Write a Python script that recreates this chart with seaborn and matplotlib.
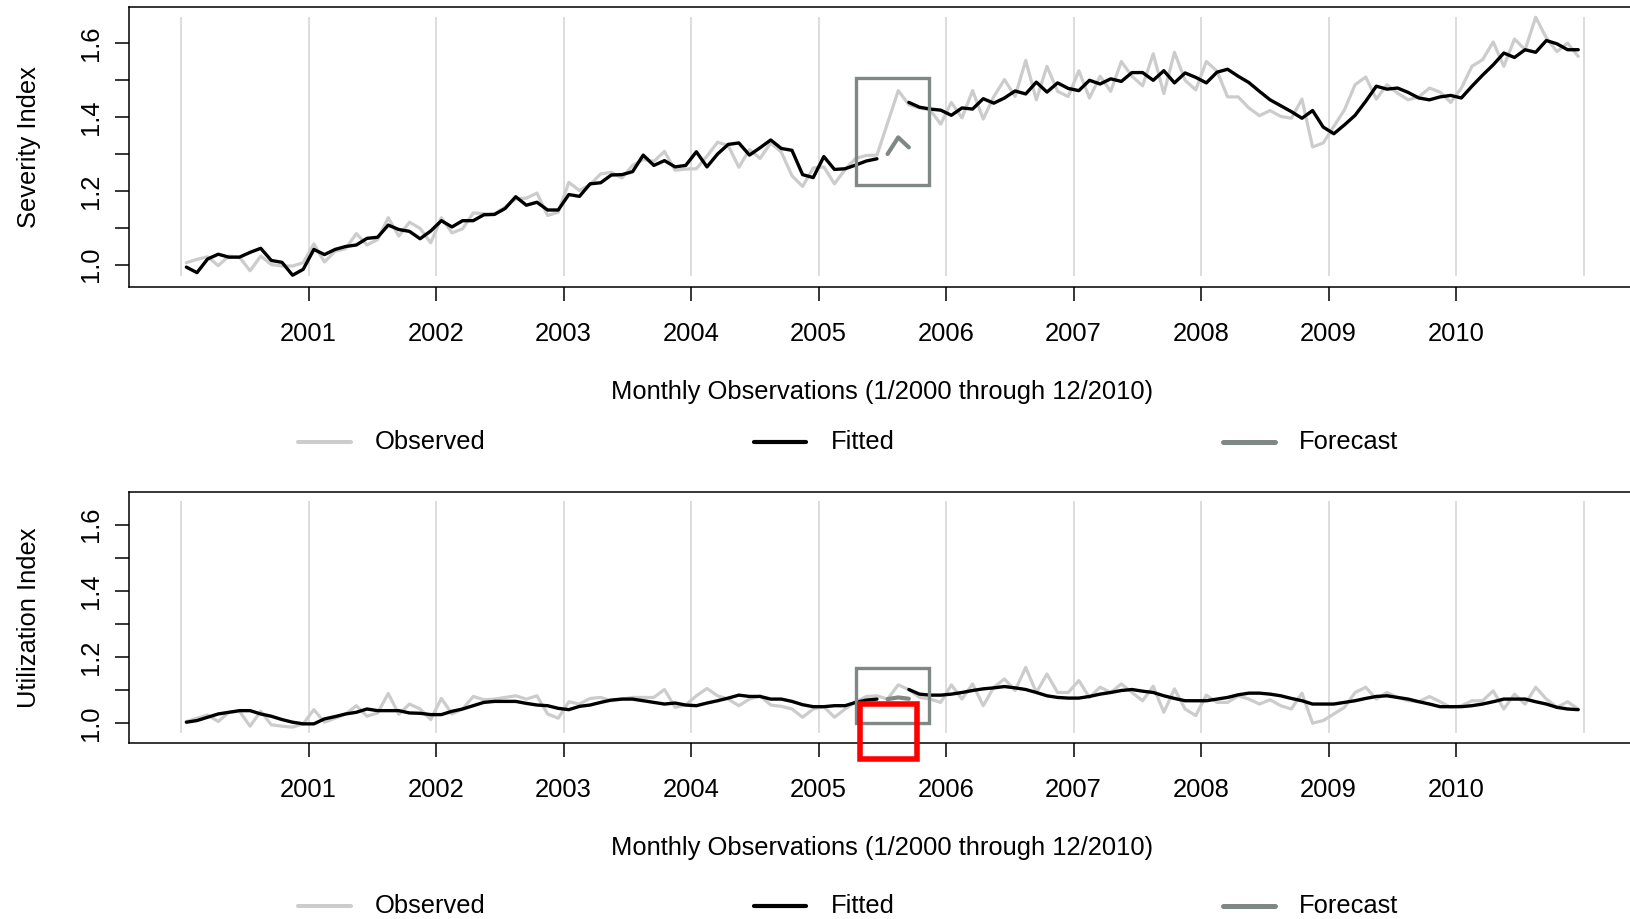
import numpy as np
import matplotlib
matplotlib.use("Agg")
import matplotlib.pyplot as plt
import seaborn as sns
from matplotlib.lines import Line2D
from matplotlib.patches import Rectangle

# ---- data: monthly index values, Jan 2000 .. Dec 2010 (132 months) ----
severity_observed = [
    1.005, 1.014, 1.021, 0.997, 1.023, 1.020, 0.983, 1.023, 1.000, 0.996, 0.996, 1.005,
    1.056, 1.007, 1.036, 1.043, 1.084, 1.053, 1.068, 1.127, 1.077, 1.115, 1.098, 1.059,
    1.127, 1.086, 1.097, 1.140, 1.138, 1.137, 1.156, 1.178, 1.180, 1.194, 1.133, 1.142,
    1.223, 1.201, 1.217, 1.246, 1.250, 1.235, 1.269, 1.285, 1.280, 1.307, 1.256, 1.259,
    1.260, 1.294, 1.332, 1.323, 1.264, 1.312, 1.288, 1.330, 1.305, 1.241, 1.212, 1.262,
    1.265, 1.219, 1.258, 1.288, 1.296, 1.297, 1.384, 1.472, 1.434, 1.425, 1.420, 1.381,
    1.440, 1.398, 1.472, 1.395, 1.456, 1.502, 1.456, 1.554, 1.447, 1.538, 1.470, 1.456,
    1.526, 1.452, 1.511, 1.470, 1.551, 1.511, 1.485, 1.572, 1.464, 1.576, 1.500, 1.474,
    1.551, 1.525, 1.455, 1.455, 1.425, 1.404, 1.418, 1.402, 1.397, 1.449, 1.319, 1.330,
    1.375, 1.420, 1.488, 1.509, 1.449, 1.488, 1.465, 1.447, 1.455, 1.479, 1.468, 1.440,
    1.479, 1.538, 1.556, 1.604, 1.538, 1.612, 1.583, 1.671, 1.615, 1.578, 1.601, 1.565,
]
severity_fitted = [
    0.993, 0.978, 1.015, 1.028, 1.020, 1.020, 1.033, 1.044, 1.011, 1.006, 0.971, 0.987,
    1.041, 1.027, 1.041, 1.049, 1.053, 1.071, 1.074, 1.107, 1.095, 1.090, 1.070, 1.091,
    1.119, 1.102, 1.119, 1.119, 1.135, 1.136, 1.152, 1.184, 1.161, 1.169, 1.148, 1.148,
    1.190, 1.185, 1.219, 1.222, 1.243, 1.244, 1.252, 1.297, 1.269, 1.282, 1.265, 1.269,
    1.306, 1.265, 1.300, 1.326, 1.330, 1.297, 1.317, 1.338, 1.315, 1.310, 1.244, 1.236,
    1.293, 1.258, 1.260, 1.270, 1.281, 1.287, np.nan, np.nan, 1.440, 1.427, 1.422, 1.419,
    1.405, 1.425, 1.422, 1.450, 1.438, 1.452, 1.471, 1.463, 1.495, 1.468, 1.493, 1.478,
    1.472, 1.500, 1.490, 1.504, 1.497, 1.521, 1.521, 1.500, 1.526, 1.493, 1.520, 1.508,
    1.493, 1.522, 1.530, 1.511, 1.494, 1.470, 1.447, 1.431, 1.415, 1.397, 1.418, 1.373,
    1.355, 1.379, 1.405, 1.443, 1.484, 1.476, 1.479, 1.467, 1.452, 1.447, 1.455, 1.459,
    1.452, 1.484, 1.514, 1.542, 1.574, 1.562, 1.583, 1.576, 1.608, 1.599, 1.583, 1.583,
]
severity_forecast = [1.300, 1.345, 1.318]

utilization_observed = [
    1.004, 1.014, 1.024, 1.004, 1.032, 1.035, 0.990, 1.035, 0.994, 0.990, 0.987, 0.997,
    1.040, 1.002, 1.014, 1.027, 1.052, 1.020, 1.030, 1.089, 1.026, 1.057, 1.042, 1.010,
    1.074, 1.027, 1.042, 1.080, 1.070, 1.072, 1.077, 1.082, 1.072, 1.082, 1.027, 1.014,
    1.064, 1.057, 1.074, 1.077, 1.067, 1.072, 1.077, 1.077, 1.077, 1.101, 1.047, 1.054,
    1.082, 1.104, 1.082, 1.072, 1.052, 1.072, 1.082, 1.054, 1.050, 1.042, 1.017, 1.042,
    1.049, 1.017, 1.042, 1.064, 1.080, 1.082, 1.072, 1.115, 1.101, 1.077, 1.072, 1.062,
    1.115, 1.072, 1.118, 1.052, 1.108, 1.133, 1.098, 1.168, 1.092, 1.148, 1.092, 1.092,
    1.128, 1.077, 1.108, 1.092, 1.118, 1.092, 1.067, 1.111, 1.032, 1.103, 1.042, 1.022,
    1.084, 1.062, 1.062, 1.082, 1.072, 1.057, 1.070, 1.052, 1.042, 1.090, 0.999, 1.007,
    1.027, 1.047, 1.092, 1.108, 1.072, 1.092, 1.077, 1.067, 1.064, 1.080, 1.064, 1.047,
    1.052, 1.067, 1.067, 1.097, 1.042, 1.087, 1.057, 1.108, 1.072, 1.047, 1.064, 1.042,
]
utilization_fitted = [
    1.002, 1.007, 1.017, 1.027, 1.032, 1.037, 1.037, 1.027, 1.020, 1.010, 1.002, 0.997,
    0.997, 1.012, 1.019, 1.027, 1.032, 1.042, 1.037, 1.037, 1.037, 1.030, 1.029, 1.025,
    1.025, 1.035, 1.042, 1.052, 1.062, 1.065, 1.065, 1.065, 1.059, 1.054, 1.052, 1.044,
    1.040, 1.050, 1.054, 1.062, 1.069, 1.072, 1.072, 1.067, 1.062, 1.057, 1.060, 1.054,
    1.052, 1.060, 1.067, 1.075, 1.084, 1.080, 1.080, 1.072, 1.072, 1.065, 1.055, 1.049,
    1.049, 1.052, 1.052, 1.062, 1.069, 1.072, np.nan, np.nan, 1.101, 1.087, 1.084, 1.084,
    1.087, 1.092, 1.098, 1.103, 1.106, 1.110, 1.106, 1.101, 1.092, 1.082, 1.077, 1.075,
    1.075, 1.080, 1.087, 1.092, 1.098, 1.101, 1.096, 1.092, 1.082, 1.074, 1.067, 1.067,
    1.067, 1.072, 1.077, 1.085, 1.090, 1.090, 1.087, 1.082, 1.074, 1.067, 1.057, 1.057,
    1.057, 1.062, 1.067, 1.074, 1.080, 1.082, 1.077, 1.072, 1.064, 1.057, 1.049, 1.049,
    1.049, 1.052, 1.057, 1.064, 1.072, 1.072, 1.072, 1.064, 1.057, 1.047, 1.042, 1.040,
]
utilization_forecast = [1.072, 1.077, 1.073]

forecast_start = 66          # Jul 2005, first forecast month
year_ticks = list(range(2001, 2011))
grid_years = list(range(2000, 2012))
panel_labels = ["Severity Index", "Utilization Index"]
legend_labels = ["Observed", "Fitted", "Forecast"]
x_title = "Monthly Observations (1/2000 through 12/2010)"

# holdout window boxes (month span, value span per panel)
box_months = (63.0, 69.9)
box_values = [(1.217, 1.506), (1.000, 1.165)]
red_box_months = (63.4, 68.8)
red_box_values = (0.890, 1.057)

# ---- style ----
OBS_C, FIT_C, FC_C, GRID_C = "#cccccc", "#000000", "#7f8885", "#d3d3d3"
OBS_LW, FIT_LW, FC_LW = 2.3, 2.4, 3.0
FS = 18.4

sns.set_theme(style="white")
plt.rcParams["font.family"] = ["Liberation Sans", "DejaVu Sans"]
plt.rcParams.update({"text.color": "black", "axes.labelcolor": "black",
                     "xtick.color": "black", "ytick.color": "black"})


def month_pos(i):
    return 2000 + (np.asarray(i) + 0.5) / 12.0


def draw_panel(ax, observed, fitted, forecast, ylabel, box_vals, grid_lo, grid_hi):
    n = len(observed)
    x = month_pos(np.arange(n))
    fitted = np.asarray(fitted, dtype=float)

    ax.vlines(grid_years, grid_lo, grid_hi, color=GRID_C, lw=1.1, zorder=0)

    sns.lineplot(x=x, y=observed, ax=ax, color=OBS_C, lw=OBS_LW, zorder=2)
    # fitted series has a gap where the forecast sits -> draw segments separately
    ok = ~np.isnan(fitted)
    breaks = np.flatnonzero(np.diff(ok.astype(int)) != 0) + 1
    for seg in np.split(np.arange(n), breaks):
        if ok[seg[0]]:
            sns.lineplot(x=x[seg], y=fitted[seg], ax=ax, color=FIT_C, lw=FIT_LW, zorder=3)
    fx = month_pos(np.arange(forecast_start, forecast_start + len(forecast)))
    sns.lineplot(x=fx, y=forecast, ax=ax, color=FC_C, lw=FC_LW, zorder=4)

    b0, b1 = month_pos(box_months[0]), month_pos(box_months[1])
    ax.add_patch(Rectangle((b0, box_vals[0]), b1 - b0, box_vals[1] - box_vals[0],
                           fill=False, ec=FC_C, lw=2.4, zorder=5))

    ax.set_xlim(1999.592, 2011.412)
    ax.set_ylim(0.939, 1.699)
    ax.set_xticks(year_ticks)
    ax.set_xticklabels([str(y) for y in year_ticks], fontsize=FS)
    ax.set_yticks([1.0, 1.2, 1.4, 1.6])
    ax.set_yticklabels(["1.0", "1.2", "1.4", "1.6"], fontsize=FS, rotation=90, va="center")
    ax.set_yticks([1.1, 1.3, 1.5], minor=True)
    ax.tick_params(axis="x", which="major", direction="out", length=10, width=1.1,
                   color="black", pad=15, bottom=True)
    ax.tick_params(axis="y", which="both", direction="out", length=10, width=1.1,
                   color="black", pad=9, left=True)
    ax.set_xlabel(x_title, fontsize=FS, labelpad=25)
    ax.set_ylabel(ylabel, fontsize=FS, labelpad=27)
    for sp in ax.spines.values():
        sp.set_color("black")
        sp.set_linewidth(1.1)
    ax.grid(False)


def draw_legend(fig, y):
    handles = [(OBS_C, OBS_LW), (FIT_C, FIT_LW), (FC_C, FC_LW)]
    line_x = [(298, 351), (754, 806), (1223, 1275)]
    text_x = [375, 831, 1299]
    W = 1631.0
    for (c, lw), (x0, x1), tx, lab in zip(handles, line_x, text_x, legend_labels):
        fig.add_artist(Line2D([x0 / W, x1 / W], [y, y], color=c, lw=lw + 0.6,
                              transform=fig.transFigure))
        fig.text(tx / W, y, lab, fontsize=FS, va="center", ha="left")


fig = plt.figure(figsize=(16.31, 9.19), dpi=100)
ax_top = fig.add_axes([0.0791, 0.6877, 0.9240, 0.3047])
ax_bot = fig.add_axes([0.0791, 0.1915, 0.9240, 0.2731])

lo = min(np.nanmin(severity_observed), np.nanmin(severity_fitted))
hi = max(np.nanmax(severity_observed), np.nanmax(severity_fitted))

draw_panel(ax_top, severity_observed, severity_fitted, severity_forecast,
           panel_labels[0], box_values[0], lo - 0.003, hi)
draw_panel(ax_bot, utilization_observed, utilization_fitted, utilization_forecast,
           panel_labels[1], box_values[1], lo - 0.003, hi)

r0, r1 = month_pos(red_box_months[0]), month_pos(red_box_months[1])
ax_bot.add_patch(Rectangle((r0, red_box_values[0]), r1 - r0,
                           red_box_values[1] - red_box_values[0],
                           fill=False, ec="#ff0000", lw=4.0, zorder=6, clip_on=False))

draw_legend(fig, 1 - 442 / 919)
draw_legend(fig, 1 - 906 / 919)

fig.savefig("out.png", dpi=100)
